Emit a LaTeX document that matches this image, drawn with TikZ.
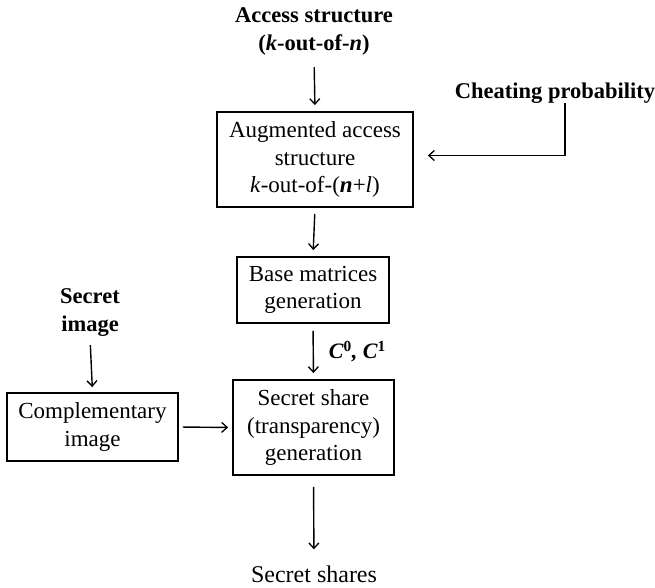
\documentclass[tikz,border=0pt]{standalone}
\usepackage{fontspec}
\setmainfont{Liberation Serif}
\usetikzlibrary{arrows.meta}
\begin{document}
\begin{tikzpicture}[x=1pt,y=1pt,
  box/.style={draw=black,line width=1.8pt,fill=white,inner sep=0pt,align=center,
    font=\fontsize{23}{27.5}\selectfont},
  lbl/.style={inner sep=0pt,align=center,font=\fontsize{22.5}{28}\selectfont\bfseries},
  arr/.style={line width=1.4pt,-{Straight Barb[length=5.5pt,width=10pt,line width=1.3pt]}}]
\useasboundingbox (0,0) rectangle (655,-588);
% nodes
\node[lbl] (access) at (314,-31) {Access structure\\(\textit{k}-out-of-\textit{n})};
\node[box,minimum width=196,minimum height=95] (aug) at (315,-159.5)
  {Augmented access\\structure\\\textit{k}-out-of-(\textbf{\textit{n}}+\textit{l})};
\node[lbl] (cheat) at (555,-93) {Cheating probability};
\coordinate (cp) at (565,-103);
\node[box,minimum width=152,minimum height=66] (base) at (313,-290)
  {Base matrices\\generation};
\node[box,minimum width=161,minimum height=95] (share) at (313.5,-427.5)
  {Secret share\\(transparency)\\generation};
\node[box,minimum width=171,minimum height=68] (comp) at (92.5,-427)
  {Complementary\\image};
\node[lbl] (simg) at (90,-313) {Secret\\image};
\node[inner sep=0pt,font=\fontsize{24}{28}\selectfont] (shares) at (314,-574) {Secret shares};
% connectors
\draw[arr,shorten <=12pt,shorten >=6pt] (access.south) -- (aug.north);
\draw[arr,shorten >=14pt] (cp) |- ([yshift=4pt]aug.east);
\draw[arr,shorten <=6pt,shorten >=6pt] (aug.south) -- (base.north);
\draw[arr,shorten <=7pt,shorten >=6pt] (base.south) -- node[right=15pt,inner sep=0pt,
  font=\fontsize{22}{26}\selectfont\bfseries\itshape] (clbl) {C$^{\mathbf{0}}$, C$^{\mathbf{1}}$} (share.north);
\draw[arr,shorten <=8pt,shorten >=5pt] (simg.south) -- (comp.north);
\draw[arr,shorten <=4pt,shorten >=4pt] (comp.east) -- (share.west);
\draw[arr,shorten <=11pt,shorten >=16pt] (share.south) -- (shares.north);
\end{tikzpicture}
\end{document}
